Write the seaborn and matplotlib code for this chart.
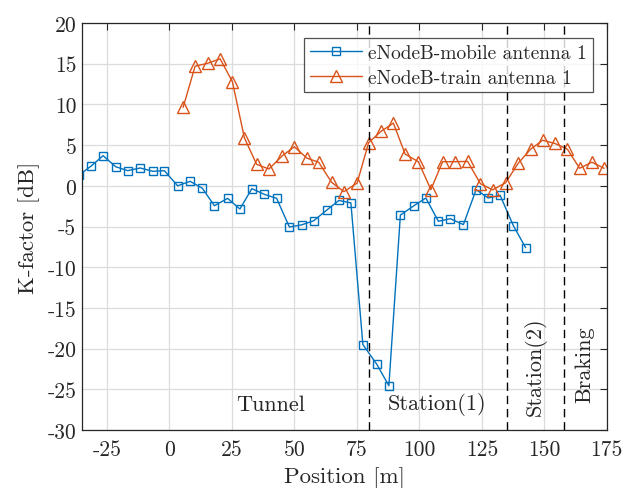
import numpy as np
import pandas as pd
import seaborn as sns
import matplotlib
matplotlib.use("Agg")
from matplotlib import pyplot as plt

# DATA
mobile_x = [-36.3, -31.4, -26.5, -21.5, -16.7, -11.7, -6.6, -2.0, 3.3, 8.3, 13.2, 18.0,
            23.3, 28.2, 33.0, 38.0, 42.9, 48.0, 52.9, 57.7, 62.9, 67.8, 72.6, 77.4,
            82.9, 87.8, 92.4, 97.8, 102.6, 107.6, 112.4, 117.6, 122.7, 127.5, 132.3,
            137.6, 142.5]
mobile_k = [1.3, 2.4, 3.7, 2.35, 1.86, 2.19, 1.78, 1.86, 0.0, 0.55, -0.3, -2.45,
            -1.54, -2.85, -0.35, -1.05, -1.54, -5.06, -4.8, -4.3, -3.0, -1.8, -2.1, -19.5,
            -21.9, -24.56, -3.6, -2.45, -1.5, -4.36, -4.04, -4.77, -0.47, -1.5, -1.17,
            -4.9, -7.6]
train_x = [5.5, 10.3, 15.3, 20.3, 25.2, 30.0, 34.9, 39.8, 45.2, 50.0, 55.0, 59.7,
           64.9, 69.8, 75.1, 79.7, 84.7, 89.6, 94.3, 99.6, 104.6, 109.3, 114.3, 119.3,
           124.4, 129.3, 134.5, 139.6, 144.5, 149.3, 154.2, 159.2, 164.1, 169.0, 173.9]
train_k = [9.64, 14.7, 15.05, 15.6, 12.8, 5.9, 2.64, 2.06, 3.7, 4.8, 3.4, 2.9,
           0.43, -0.72, 0.34, 5.3, 6.7, 7.7, 3.9, 2.96, -0.47, 2.96, 2.96, 3.0,
           0.26, -0.5, 0.38, 2.8, 4.5, 5.6, 5.2, 4.5, 2.15, 2.9, 2.15]
zone_bounds = [80, 135, 158]
zone_names = ["Tunnel", "Station(1)", "Station(2)", "Braking"]

mobile_df = pd.DataFrame({"pos": mobile_x, "k": mobile_k})
train_df = pd.DataFrame({"pos": train_x, "k": train_k})

## STYLE ##
sns.set_style("white")
plt.rcParams['font.family'] = ['cmr10', 'DejaVu Serif']
plt.rcParams['mathtext.fontset'] = 'cm'
plt.rcParams['axes.unicode_minus'] = False
plt.rcParams['axes.formatter.use_mathtext'] = False

blue = "#0072BD"
orange = "#D95319"

fig = plt.figure(figsize=(6.25, 4.89), dpi=100)
ax = fig.add_axes([0.131, 0.1186, 0.84, 0.8323])

sns.lineplot(data=mobile_df, x="pos", y="k", ax=ax, color=blue, lw=1.0,
             marker="s", markersize=6, mfc="none", mec=blue, mew=1.0,
             label="eNodeB-mobile antenna 1", sort=False)
sns.lineplot(data=train_df, x="pos", y="k", ax=ax, color=orange, lw=1.0,
             marker="^", markersize=8.5, mfc="none", mec=orange, mew=1.0,
             label="eNodeB-train antenna 1", sort=False)

# zone boundaries
for xb in zone_bounds:
    ax.axvline(xb, color="black", ls=(0, (6, 3.5)), lw=1.0)

ax.text(40.5, -26.8, zone_names[0], fontsize=16, ha="center", va="center")
ax.text(107.2, -26.8, zone_names[1], fontsize=16, ha="center", va="center")
ax.text(146.4, -22.1, zone_names[2], fontsize=16, ha="center", va="center", rotation=90)
ax.text(166.0, -21.9, zone_names[3], fontsize=16, ha="center", va="center", rotation=90)

ax.set_xlim(-35, 175)
ax.set_ylim(-30, 20)
ax.set_xticks([-25, 0, 25, 50, 75, 100, 125, 150, 175])
ax.set_yticks(np.arange(-30, 21, 5))
ax.grid(True, color="#dcdcdc", lw=0.9)
ax.set_axisbelow(True)
ax.tick_params(direction="in", top=True, right=True, length=5, width=0.8,
               labelsize=15.5, colors="#262626")
ax.tick_params(axis="x", pad=7)
ax.tick_params(axis="y", pad=4)
for s in ax.spines.values():
    s.set_color("#262626")
    s.set_linewidth(0.9)

ax.set_xlabel("Position [m]", fontsize=16.5, labelpad=5)
ax.set_ylabel("K-factor [dB]", fontsize=16.5, labelpad=5)

leg = ax.legend(loc="upper right", bbox_to_anchor=(0.973, 0.963), fontsize=14,
                frameon=True, fancybox=False, edgecolor="#262626",
                borderpad=0.3, handlelength=2.7, handletextpad=0.3, borderaxespad=0,
                labelspacing=0.35)
leg.get_frame().set_linewidth(0.9)

fig.savefig("out.png", dpi=100)
